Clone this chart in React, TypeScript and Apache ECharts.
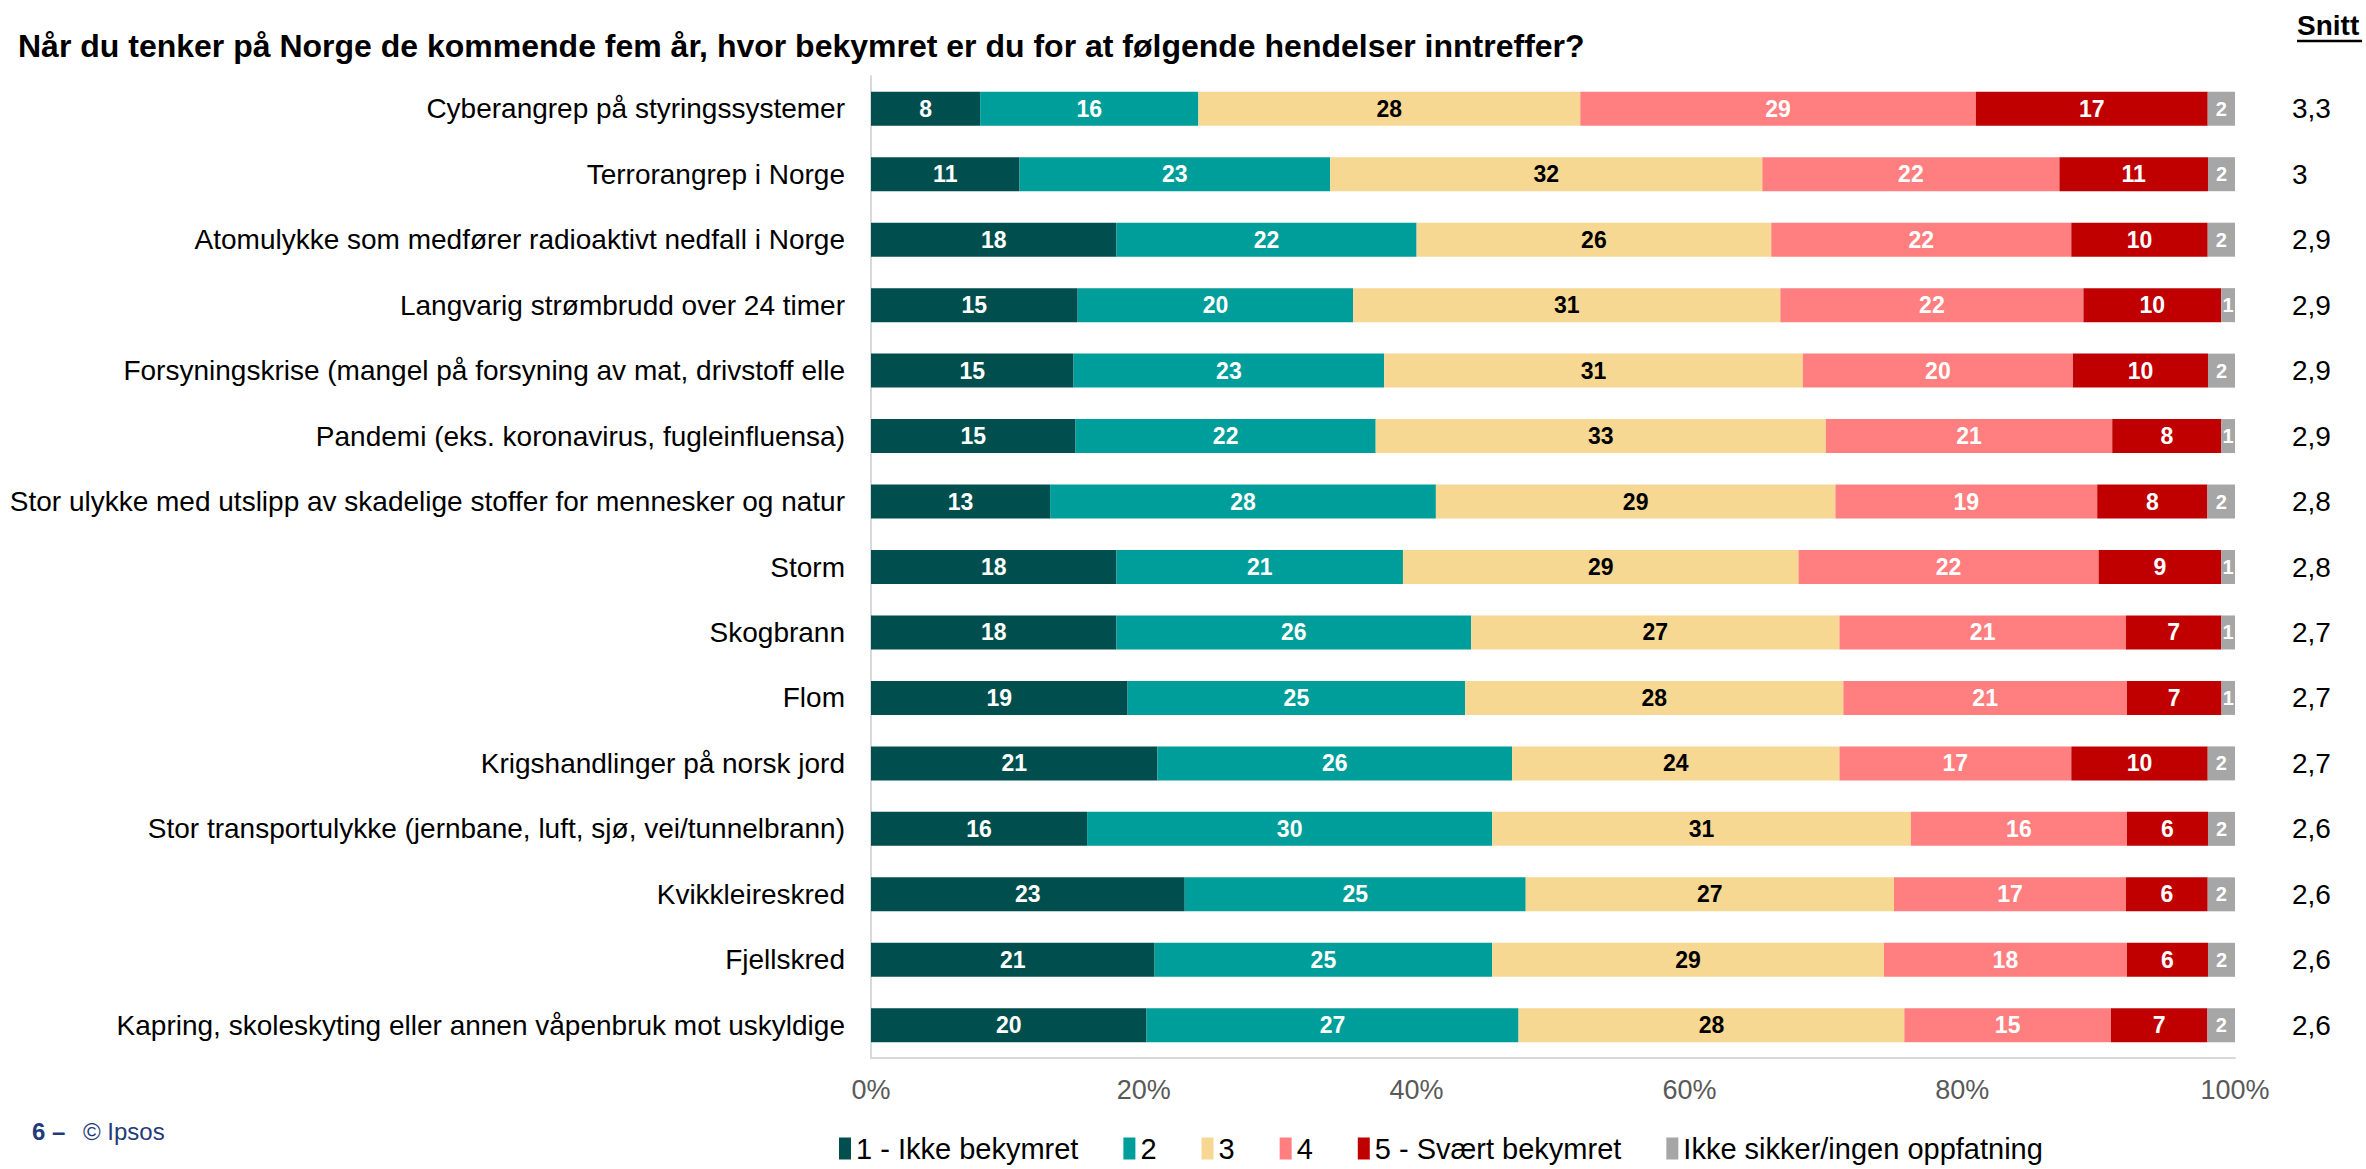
import React, { useEffect, useRef } from "react";
import * as echarts from "echarts";

const titleText =
  "Når du tenker på Norge de kommende fem år, hvor bekymret er du for at følgende hendelser inntreffer?";

const categories = [
  "Cyberangrep på styringssystemer",
  "Terrorangrep i Norge",
  "Atomulykke som medfører radioaktivt nedfall i Norge",
  "Langvarig strømbrudd over 24 timer",
  "Forsyningskrise (mangel på forsyning av mat, drivstoff elle",
  "Pandemi (eks. koronavirus, fugleinfluensa)",
  "Stor ulykke med utslipp av skadelige stoffer for mennesker og natur",
  "Storm",
  "Skogbrann",
  "Flom",
  "Krigshandlinger på norsk jord",
  "Stor transportulykke (jernbane, luft, sjø, vei/tunnelbrann)",
  "Kvikkleireskred",
  "Fjellskred",
  "Kapring, skoleskyting eller annen våpenbruk mot uskyldige",
];

const seriesNames = [
  "1 - Ikke bekymret",
  "2",
  "3",
  "4",
  "5 - Svært bekymret",
  "Ikke sikker/ingen oppfatning",
];

const lvl1 = [8, 11, 18, 15, 15, 15, 13, 18, 18, 19, 21, 16, 23, 21, 20];
const lvl2 = [16, 23, 22, 20, 23, 22, 28, 21, 26, 25, 26, 30, 25, 25, 27];
const lvl3 = [28, 32, 26, 31, 31, 33, 29, 29, 27, 28, 24, 31, 27, 29, 28];
const lvl4 = [29, 22, 22, 22, 20, 21, 19, 22, 21, 21, 17, 16, 17, 18, 15];
const lvl5 = [17, 11, 10, 10, 10, 8, 8, 9, 7, 7, 10, 6, 6, 6, 7];
const lvl6 = [2, 2, 2, 1, 2, 1, 2, 1, 1, 1, 2, 2, 2, 2, 2];

const snitt = ["3,3", "3", "2,9", "2,9", "2,9", "2,9", "2,8", "2,8", "2,7", "2,7", "2,7", "2,6", "2,6", "2,6", "2,6"];

const xTicks = [0, 20, 40, 60, 80, 100];

const colors = ["#004F4E", "#009E9A", "#F6D892", "#FF7F80", "#C00000", "#A6A6A6"];
const labelColors = ["#FFFFFF", "#FFFFFF", "#000000", "#FFFFFF", "#FFFFFF", "#FFFFFF"];

const FONT = "'Liberation Sans', Arial, sans-serif";

export default function App() {
  const ref = useRef<HTMLDivElement>(null);

  useEffect(() => {
    if (!ref.current) return;
    const chart = echarts.init(ref.current, undefined, { renderer: "svg" });
    const levels = [lvl1, lvl2, lvl3, lvl4, lvl5, lvl6];
    const rowSums = categories.map((_, i) => levels.reduce((s, l) => s + l[i], 0));

    const series = levels.map((lvl, k) => ({
      name: seriesNames[k],
      type: "bar",
      stack: "total",
      barWidth: 34,
      yAxisIndex: 0,
      itemStyle: { color: colors[k] },
      label: {
        show: true,
        position: "inside",
        color: labelColors[k],
        fontFamily: FONT,
        fontWeight: "bold",
        fontSize: k === 5 ? 20 : 23,
        formatter: (p: any) => String(lvl[p.dataIndex]),
      },
      data: lvl.map((v, i) => (v / rowSums[i]) * 100),
    }));

    chart.setOption({
      animation: false,
      textStyle: { fontFamily: FONT },
      grid: { left: 871, right: 131, top: 76, bottom: 111, containLabel: false },
      graphic: [
        {
          type: "text",
          left: 18,
          top: 30,
          style: {
            text: titleText,
            fill: "#000",
            font: `bold 32px ${FONT}`,
          },
        },
        {
          type: "text",
          left: 2297,
          top: 11,
          style: { text: "Snitt", fill: "#000", font: `bold 28px ${FONT}` },
        },
        {
          type: "line",
          shape: { x1: 2297, y1: 41, x2: 2362, y2: 41 },
          style: { stroke: "#000", lineWidth: 2.5 },
        },
        {
          type: "text",
          left: 32,
          top: 1119,
          style: { text: "6 –", fill: "#1F3B7A", font: `bold 24px ${FONT}` },
        },
        {
          type: "text",
          left: 83,
          top: 1119,
          style: { text: "© Ipsos", fill: "#1F3B7A", font: `24px ${FONT}` },
        },
      ],
      legend: {
        left: 834,
        top: 1134,
        itemGap: 45,
        itemWidth: 12,
        itemHeight: 22,
        padding: [0, 5, 0, 5],
        icon: "rect",
        data: seriesNames,
        textStyle: { fontSize: 29, color: "#000", fontFamily: FONT },
      },
      xAxis: {
        type: "value",
        min: 0,
        max: 100,
        interval: 20,
        axisLine: { show: true, lineStyle: { color: "#D9D9D9", width: 2 } },
        axisTick: { show: false },
        splitLine: { show: false },
        axisLabel: {
          fontSize: 27,
          color: "#595959",
          margin: 18,
          fontFamily: FONT,
          formatter: (v: number) => (xTicks.includes(v) ? `${v}%` : ""),
        },
      },
      yAxis: [
        {
          type: "category",
          data: categories,
          inverse: true,
          axisLine: { show: true, lineStyle: { color: "#D9D9D9", width: 2 } },
          axisTick: { show: false },
          axisLabel: { fontSize: 28, color: "#000", margin: 26, fontFamily: FONT },
        },
        {
          type: "category",
          data: snitt,
          inverse: true,
          position: "right",
          axisLine: { show: false },
          axisTick: { show: false },
          axisLabel: {
            fontSize: 28,
            color: "#000",
            margin: 57,
            align: "left",
            fontFamily: FONT,
            padding: [0, 0, 6, 0],
          },
        },
      ],
      series,
    });

    return () => chart.dispose();
  }, []);

  return (
    <div
      ref={ref}
      style={{ position: "absolute", left: 0, top: 0, width: 2366, height: 1169, background: "#fff" }}
    />
  );
}
